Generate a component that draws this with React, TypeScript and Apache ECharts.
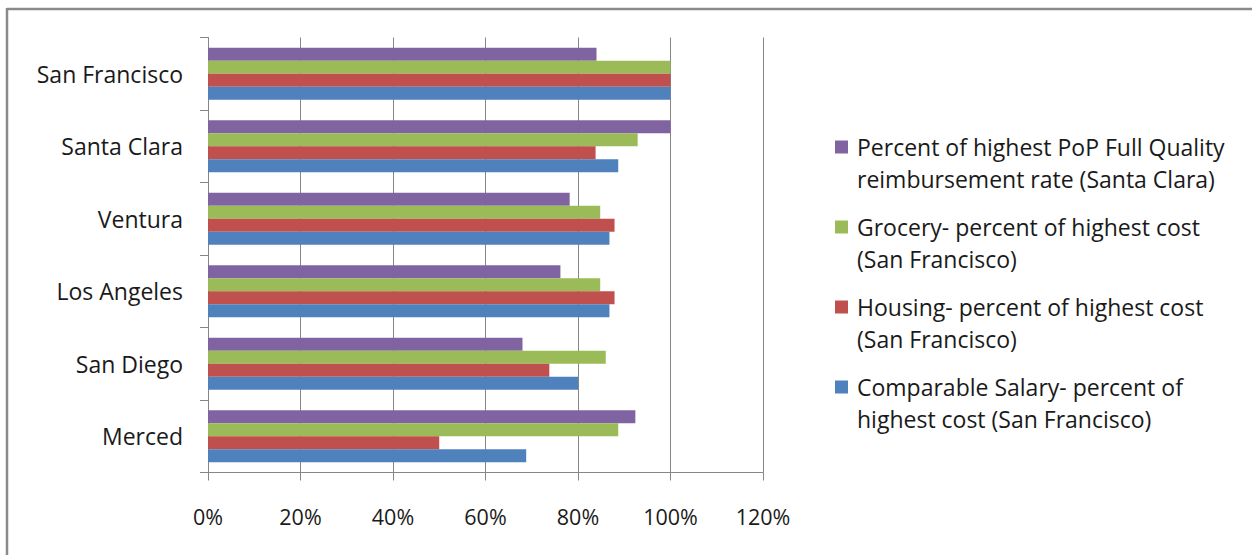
import React, { useEffect, useRef } from "react";
import * as echarts from "echarts";

const categories = ["Merced", "San Diego", "Los Angeles", "Ventura", "Santa Clara", "San Francisco"];
const popRate = [92.4, 68, 76.2, 78.2, 100, 84];
const grocery = [88.7, 86, 84.8, 84.8, 92.9, 100];
const housing = [50, 73.8, 87.9, 87.9, 83.8, 100];
const salary = [68.8, 80, 86.8, 86.8, 88.7, 100];
const xTicks = [0, 20, 40, 60, 80, 100, 120];

const seriesNames = [
  "Percent of highest PoP Full Quality\nreimbursement rate (Santa Clara)",
  "Grocery- percent of highest cost\n(San Francisco)",
  "Housing- percent of highest cost\n(San Francisco)",
  "Comparable Salary- percent of\nhighest cost (San Francisco)",
];
const colors = ["#8064A2", "#9BBB59", "#C0504D", "#4F81BD"];
const values = [popRate, grocery, housing, salary];

const FONT = "Open Sans";

export default function App() {
  const ref = useRef<HTMLDivElement>(null);
  useEffect(() => {
    if (!ref.current) return;
    const chart = echarts.init(ref.current, null, { renderer: "svg" });
    chart.setOption({
      animation: false,
      backgroundColor: "#ffffff",
      textStyle: { fontFamily: FONT },
      grid: { left: 208, right: 489, top: 37.5, bottom: 82.5, containLabel: false },
      xAxis: {
        type: "value",
        min: xTicks[0],
        max: xTicks[xTicks.length - 1],
        interval: 20,
        axisLine: { show: true, lineStyle: { color: "#868686", width: 1 } },
        axisTick: { show: true, inside: false, length: 8, lineStyle: { color: "#868686" } },
        splitLine: { show: true, lineStyle: { color: "#868686", width: 1 } },
        axisLabel: {
          formatter: (v: number) => v + "%",
          fontSize: 21.5,
          color: "#1a1a1a",
          fontFamily: FONT,
          margin: 33,
        },
      },
      yAxis: {
        type: "category",
        data: categories,
        axisLine: { show: true, lineStyle: { color: "#868686", width: 1 } },
        axisTick: { show: true, inside: false, length: 8, lineStyle: { color: "#868686" } },
        axisLabel: { fontSize: 23, color: "#1a1a1a", fontFamily: FONT, margin: 25 },
      },
      legend: {
        orient: "vertical",
        left: 830,
        top: 94,
        itemWidth: 13,
        itemHeight: 13,
        itemGap: -16,
        icon: "rect",
        data: seriesNames,
        formatter: (name: string) => " \n" + name,
        textStyle: {
          fontSize: 23,
          color: "#1a1a1a",
          fontFamily: FONT,
          lineHeight: 32,
          padding: [0, 0, 0, 4],
        },
      },
      graphic: [
        { type: "line", shape: { x1: 7, y1: 9, x2: 1252, y2: 9 }, style: { stroke: "#8a8a8a", lineWidth: 2.5 } },
        { type: "line", shape: { x1: 7, y1: 8, x2: 7, y2: 555 }, style: { stroke: "#8a8a8a", lineWidth: 2.5 } },
      ],
      series: seriesNames.map((name, i) => ({
        type: "bar",
        name,
        data: values[i],
        itemStyle: { color: colors[i] },
        barGap: "0%",
        barCategoryGap: "28%",
      })),
    });
    return () => chart.dispose();
  }, []);
  return (
    <div
      ref={ref}
      style={{ position: "fixed", left: 0, top: 0, width: 1252, height: 555 }}
    />
  );
}
